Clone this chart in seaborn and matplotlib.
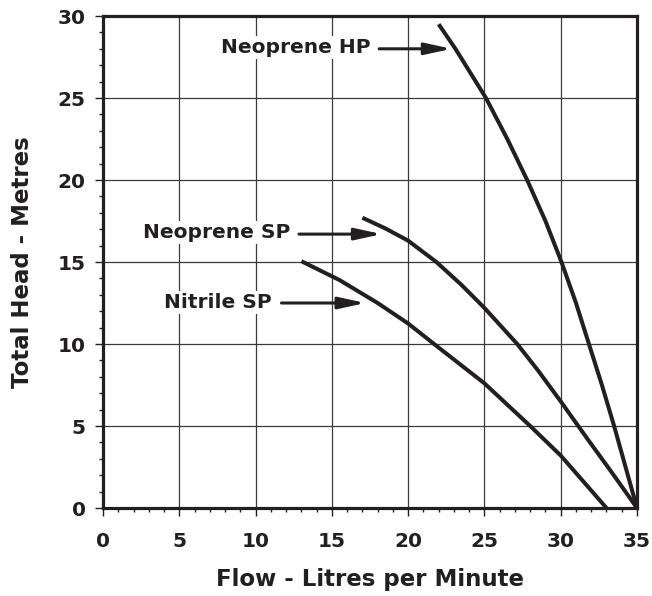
import matplotlib
matplotlib.use("Agg")
import matplotlib.pyplot as plt
import seaborn as sns
import pandas as pd
from matplotlib.ticker import MultipleLocator

# ---- data ----
hp_flow = [22.0, 23.1, 25.1, 26.5, 27.8, 29.0, 30.05, 31.0, 31.85, 32.7, 33.5, 34.25, 35.0]
hp_head = [29.5, 28.0, 25.0, 22.5, 20.0, 17.5, 15.0, 12.5, 10.0, 7.5, 5.0, 2.5, 0.0]

sp_flow = [17.0, 18.5, 20.0, 21.85, 23.5, 25.0, 27.15, 28.5, 30.0, 31.8, 33.4, 35.0]
sp_head = [17.7, 17.05, 16.3, 15.0, 13.6, 12.2, 10.0, 8.4, 6.5, 4.15, 2.1, 0.0]

ni_flow = [13.0, 15.5, 18.0, 20.0, 21.7, 25.0, 28.0, 30.0, 33.0]
ni_head = [15.05, 13.9, 12.5, 11.25, 10.0, 7.6, 5.0, 3.2, 0.0]

labels = ["Neoprene HP", "Neoprene SP", "Nitrile SP"]
label_pos = [(12.64, 28.05), (7.46, 16.77), (7.56, 12.56)]
arrow_tail = [(18.1, 28.0), (12.85, 16.7), (11.7, 12.5)]
arrow_head = [(22.85, 28.0), (18.27, 16.7), (17.2, 12.5)]

x_ticks = [0, 5, 10, 15, 20, 25, 30, 35]
y_ticks = [0, 5, 10, 15, 20, 25, 30]

df = pd.concat([
    pd.DataFrame({"flow": hp_flow, "head": hp_head, "curve": labels[0]}),
    pd.DataFrame({"flow": sp_flow, "head": sp_head, "curve": labels[1]}),
    pd.DataFrame({"flow": ni_flow, "head": ni_head, "curve": labels[2]}),
])

INK = "#231f20"

sns.set_theme(style="white")
plt.rcParams["font.family"] = ["DejaVu Sans"]
plt.rcParams["font.weight"] = "bold"

fig = plt.figure(figsize=(6.52, 5.96), dpi=100)
ax = fig.add_axes([103 / 652, 88 / 596, 534 / 652, 492 / 596])

sns.lineplot(data=df, x="flow", y="head", units="curve", estimator=None,
             sort=False, color=INK, linewidth=2.9, ax=ax, legend=False,
             zorder=3)
for ln in ax.lines:
    ln.set_solid_capstyle("butt")
    ln.set_solid_joinstyle("round")

ax.set_xlim(0, 35)
ax.set_ylim(0, 30)
ax.set_xticks(x_ticks)
ax.set_yticks(y_ticks)
ax.xaxis.set_minor_locator(MultipleLocator(1))
ax.yaxis.set_minor_locator(MultipleLocator(1))
ax.grid(True, which="major", color="#3a3a3a", linewidth=0.9)
ax.set_axisbelow(True)

for s in ax.spines.values():
    s.set_visible(True)
    s.set_color(INK)
    s.set_linewidth(2.3)
    s.set_zorder(4)

ax.tick_params(axis="both", which="major", direction="out", length=5.5,
               width=1.0, color=INK, labelsize=14.5, labelcolor=INK)
ax.tick_params(axis="both", which="minor", direction="out", length=3,
               width=1.0, color=INK)
ax.tick_params(axis="x", which="major", pad=12, bottom=True)
ax.tick_params(axis="x", which="minor", bottom=True)
ax.tick_params(axis="y", which="major", pad=7, left=True)
ax.tick_params(axis="y", which="minor", left=True)
for lab in ax.get_xticklabels() + ax.get_yticklabels():
    lab.set_fontweight("bold")

ax.set_xlabel("Flow - Litres per Minute", fontsize=16.5, fontweight="bold",
              color=INK, labelpad=12)
ax.set_ylabel("Total Head - Metres", fontsize=16.5, fontweight="bold",
              color=INK, labelpad=17)

for text, (tx, ty), (ax0, ay0), (ax1, ay1) in zip(labels, label_pos, arrow_tail, arrow_head):
    ax.text(tx, ty, text, fontsize=14.5, fontweight="bold", color=INK,
            ha="center", va="center", zorder=5,
            bbox=dict(facecolor="white", edgecolor="none", pad=1.5))
    ax.annotate("", xy=(ax1, ay1), xytext=(ax0, ay0), zorder=5,
                arrowprops=dict(arrowstyle="-|>,head_length=1.6,head_width=0.35",
                                color=INK, lw=2.2, shrinkA=0, shrinkB=0,
                                mutation_scale=10))

fig.savefig("out.png", dpi=100)
